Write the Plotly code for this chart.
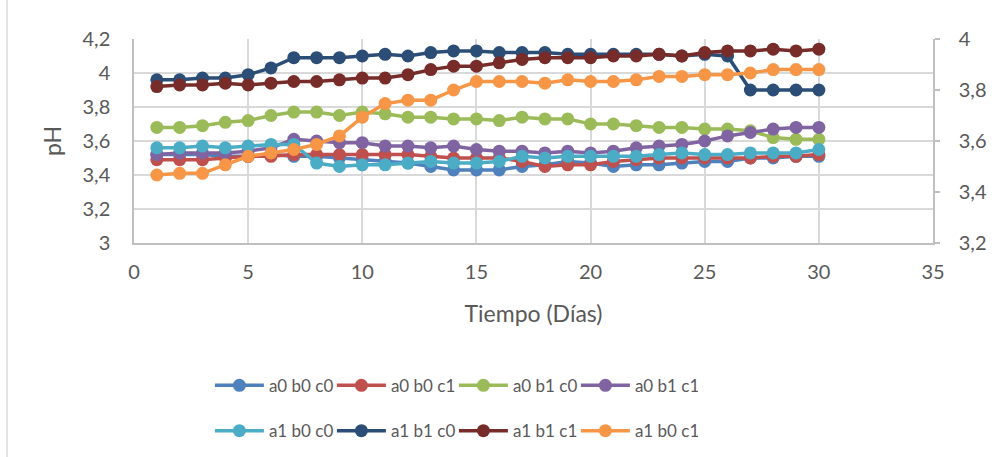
import plotly.graph_objects as go

# Days of measurement
dias = list(range(1, 31))

# pH readings per treatment
a0_b0_c0 = [3.52, 3.52, 3.52, 3.51, 3.51, 3.52, 3.51, 3.51, 3.50, 3.49,
            3.48, 3.47, 3.45, 3.43, 3.43, 3.43, 3.45, 3.46, 3.48, 3.47,
            3.45, 3.46, 3.46, 3.47, 3.48, 3.48, 3.50, 3.50, 3.51, 3.51]
a0_b0_c1 = [3.49, 3.49, 3.49, 3.50, 3.51, 3.51, 3.52, 3.52, 3.52, 3.52,
            3.52, 3.52, 3.51, 3.50, 3.50, 3.50, 3.48, 3.45, 3.46, 3.46,
            3.48, 3.49, 3.50, 3.50, 3.50, 3.50, 3.50, 3.51, 3.51, 3.52]
a0_b1_c0 = [3.68, 3.68, 3.69, 3.71, 3.72, 3.75, 3.77, 3.77, 3.75, 3.77,
            3.76, 3.74, 3.74, 3.73, 3.73, 3.72, 3.74, 3.73, 3.73, 3.70,
            3.70, 3.69, 3.68, 3.68, 3.67, 3.67, 3.66, 3.62, 3.61, 3.61]
a0_b1_c1 = [3.52, 3.53, 3.53, 3.53, 3.54, 3.56, 3.61, 3.60, 3.59, 3.59,
            3.57, 3.57, 3.56, 3.57, 3.55, 3.54, 3.54, 3.53, 3.54, 3.53,
            3.54, 3.56, 3.57, 3.58, 3.60, 3.63, 3.65, 3.67, 3.68, 3.68]
a1_b0_c0 = [3.56, 3.56, 3.57, 3.56, 3.57, 3.58, 3.58, 3.47, 3.45, 3.46,
            3.46, 3.47, 3.48, 3.47, 3.47, 3.48, 3.51, 3.50, 3.51, 3.51,
            3.51, 3.51, 3.52, 3.53, 3.52, 3.52, 3.53, 3.53, 3.53, 3.55]
a1_b1_c0 = [3.96, 3.96, 3.97, 3.97, 3.99, 4.03, 4.09, 4.09, 4.09, 4.10,
            4.11, 4.10, 4.12, 4.13, 4.13, 4.12, 4.12, 4.12, 4.11, 4.11,
            4.11, 4.11, 4.11, 4.10, 4.11, 4.10, 3.90, 3.90, 3.90, 3.90]
a1_b1_c1 = [3.92, 3.93, 3.93, 3.94, 3.93, 3.94, 3.95, 3.95, 3.96, 3.97,
            3.97, 3.99, 4.02, 4.04, 4.04, 4.06, 4.08, 4.09, 4.09, 4.09,
            4.10, 4.10, 4.11, 4.10, 4.12, 4.13, 4.13, 4.14, 4.13, 4.14]
a1_b0_c1 = [3.40, 3.41, 3.41, 3.46, 3.51, 3.53, 3.55, 3.58, 3.63, 3.74,
            3.82, 3.84, 3.84, 3.90, 3.95, 3.95, 3.95, 3.94, 3.96, 3.95,
            3.95, 3.96, 3.98, 3.98, 3.99, 3.99, 4.00, 4.02, 4.02, 4.02]

series = [
    ("a0 b0 c0", a0_b0_c0, "#4F81BD", "legend"),
    ("a0 b0 c1", a0_b0_c1, "#C0504D", "legend"),
    ("a0 b1 c0", a0_b1_c0, "#9BBB59", "legend"),
    ("a0 b1 c1", a0_b1_c1, "#8064A2", "legend"),
    ("a1 b0 c0", a1_b0_c0, "#4BACC6", "legend2"),
    ("a1 b1 c0", a1_b1_c0, "#2C4D75", "legend2"),
    ("a1 b1 c1", a1_b1_c1, "#772C2A", "legend2"),
    ("a1 b0 c1", a1_b0_c1, "#F79646", "legend2"),
]

FONT = "Lato"
TXT = "#595959"
GRID = "#D9D9D9"
AXIS = "#BFBFBF"

fig = go.Figure()
for name, vals, color, leg in series:
    fig.add_trace(go.Scatter(
        x=dias, y=vals, name=name, mode="lines+markers",
        line=dict(color=color, width=3.5),
        marker=dict(color=color, size=13, symbol="circle"),
        legend=leg,
    ))

# Empty trace so the secondary (right) pH axis gets drawn
fig.add_trace(go.Scatter(x=[None], y=[None], yaxis="y2", showlegend=False,
                         hoverinfo="skip", mode="lines"))

legend_style = dict(
    orientation="h", xanchor="left", yanchor="middle",
    font=dict(family=FONT, size=17, color=TXT),
    bgcolor="rgba(0,0,0,0)", entrywidth=58, entrywidthmode="pixels",
    itemwidth=49, traceorder="normal",
)

fig.update_layout(
    width=992, height=457,
    margin=dict(l=134, r=59, t=39, b=214, autoexpand=False),
    paper_bgcolor="white", plot_bgcolor="white",
    separators=",.",
    font=dict(family=FONT, size=18, color=TXT),
    xaxis=dict(
        range=[0, 35], dtick=5, tick0=0,
        showgrid=True, gridcolor=GRID, gridwidth=1.5,
        showline=True, linecolor=AXIS, linewidth=1.5, mirror=False,
        zeroline=False, ticks="", ticklabelstandoff=10, automargin=False,
        tickfont=dict(family=FONT, size=20, color=TXT),
        title=dict(text="Tiempo (Días)", standoff=24,
                   font=dict(family=FONT, size=23, color=TXT)),
    ),
    yaxis=dict(
        range=[3, 4.2], dtick=0.2, tick0=3,
        showgrid=True, gridcolor=GRID, gridwidth=1.5,
        showline=True, linecolor=AXIS, linewidth=1.5,
        zeroline=False, ticks="", ticklabelstandoff=18, automargin=False,
        tickfont=dict(family=FONT, size=20, color=TXT),
        title=dict(text="pH", standoff=14,
                   font=dict(family=FONT, size=23, color=TXT)),
    ),
    yaxis2=dict(
        range=[3.2, 4.0], dtick=0.2, tick0=3.2,
        overlaying="y", side="right", anchor="x",
        showgrid=False, zeroline=False, automargin=False,
        showline=True, linecolor=AXIS, linewidth=1.5,
        ticks="outside", ticklen=5, tickcolor=AXIS, tickwidth=1.5,
        ticklabelstandoff=15,
        tickfont=dict(family=FONT, size=20, color=TXT),
    ),
    legend=dict(x=0.095, y=-0.70, **legend_style),
    legend2=dict(x=0.095, y=-0.922, **legend_style),
    showlegend=True,
)

# Outer frame edge on the left side
fig.add_shape(type="line", xref="paper", yref="paper",
              x0=-0.159, x1=-0.159, y0=-1.1, y1=1.2,
              line=dict(color="#D9D9D9", width=1.5))

fig.write_html("out.html")
